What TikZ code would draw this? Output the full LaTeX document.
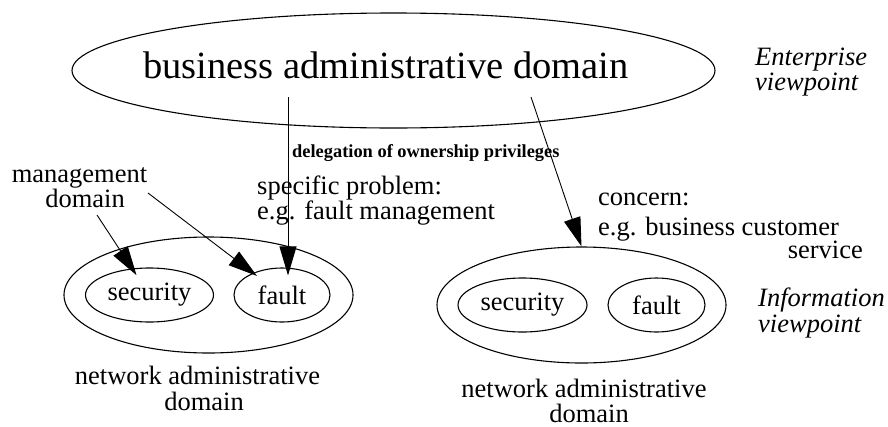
\documentclass[tikz,border=0pt]{standalone}
\usepackage{fontspec}
\setmainfont{Liberation Serif}
\usetikzlibrary{shapes.geometric,arrows.meta,calc}
\tikzset{
  dom/.style={ellipse, draw, line width=1.1pt, inner sep=0pt},
  lbl/.style={inner sep=0pt, font=\fontsize{26.5}{30}\selectfont},
  vp/.style={lbl, font=\fontsize{26.5}{30}\selectfont\itshape},
  arr/.style={line width=0.9pt, -{Triangle[length=29pt,width=17pt]}}
}
\begin{document}
\begin{tikzpicture}[x=1pt,y=-1pt]
\useasboundingbox (0,0) rectangle (888,426);
% top domain
\node[dom, minimum width=643pt, minimum height=115pt] (bad) at (393.5,70.5) {};
\node[inner sep=0pt, anchor=base, font=\fontsize{38.5}{40}\selectfont] (badt) at (386,78) {business administrative domain};
\node[vp, anchor=base west] (ent1) at (755,65) {Enterprise};
\node[vp, anchor=base west] (ent2) at (755,90) {viewpoint};
% left group
\node[dom, minimum width=289pt, minimum height=116pt] (louter) at (208.5,295) {};
\node[dom, lbl, minimum width=128pt, minimum height=54pt] (lsec) at (149.5,295) {security};
\node[dom, lbl, minimum width=96pt, minimum height=54pt] (lfault) at (282,295) {fault};
\node[lbl, anchor=base] (lnet1) at (197.5,384) {network administrative};
\node[lbl, anchor=base] (lnet2) at (204,410) {domain};
% right group
\node[dom, minimum width=289pt, minimum height=116pt] (router) at (581.5,305) {};
\node[dom, lbl, minimum width=129pt, minimum height=54pt] (rsec) at (522.5,305) {security};
\node[dom, lbl, minimum width=97pt, minimum height=54pt] (rfault) at (656.5,305) {fault};
\node[lbl, anchor=base] (rnet1) at (584,397) {network administrative};
\node[lbl, anchor=base] (rnet2) at (589,422) {domain};
\node[vp, anchor=base west] (inf1) at (758,306) {Information};
\node[vp, anchor=base west] (inf2) at (758,332) {viewpoint};
% labels
\node[lbl, anchor=base] (mg1) at (79.5,182) {management};
\node[lbl, anchor=base] (mg2) at (85,207) {domain};
\node[inner sep=0pt, anchor=base west, font=\fontsize{18.4}{20}\selectfont\bfseries] (deleg) at (292,157) {delegation of ownership privileges};
\node[lbl, anchor=base west] (sp1) at (257,194) {specific problem:};
\node[lbl, anchor=base west] (sp2) at (257,219) {e.g. fault management};
\node[lbl, anchor=base west] (cc1) at (598,205) {concern:};
\node[lbl, anchor=base west] (cc2) at (598,235) {e.g. business customer};
\node[lbl, anchor=base east] (cc3) at (863,258) {service};
% connector start points
\coordinate (s1) at (288,97);
\coordinate (s2) at (531,97);
\coordinate (m1) at (97,215);
\coordinate (m2) at (148,193);
% connectors
\draw[arr, shorten >=-8pt] (s1) -- (s1 |- lfault.north);
\draw[arr] (s2) -- (router.north);
\draw[arr, shorten >=-8pt] (m1) -- (lsec);
\draw[arr, shorten >=-5pt] (m2) -- (lfault);
\end{tikzpicture}
\end{document}
